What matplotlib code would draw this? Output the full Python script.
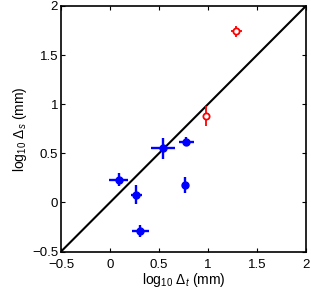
import matplotlib
matplotlib.use("Agg")
import matplotlib.pyplot as plt

plt.rcParams['font.family'] = ['Liberation Sans', 'DejaVu Sans']
plt.rcParams['mathtext.fontset'] = 'custom'
plt.rcParams['mathtext.rm'] = 'Liberation Sans'
plt.rcParams['mathtext.it'] = 'Liberation Sans:italic'

# blue filled points
blue_x = [0.09, 0.27, 0.31, 0.54, 0.78, 0.77]
blue_y = [0.23, 0.08, -0.29, 0.55, 0.62, 0.18]
blue_xerr = [0.095, 0.06, 0.09, 0.12, 0.08, 0.02]
blue_yerr = [0.065, 0.10, 0.06, 0.11, 0.05, 0.08]

# red open points
red_x = [0.98, 1.29]
red_y = [0.88, 1.74]
red_xerr = [0.02, 0.06]
red_yerr = [0.10, 0.06]

line = [-0.5, 2]

fig = plt.figure(figsize=(3.11, 2.95), dpi=100)
ax = fig.add_axes([0.196, 0.147, 0.788, 0.833])

ax.plot(line, line, color='black', lw=1.5)
ax.errorbar(blue_x, blue_y, xerr=blue_xerr, yerr=blue_yerr, fmt='o',
            color='blue', ms=5, elinewidth=1.7, capsize=0)
ax.errorbar(red_x, red_y, xerr=red_xerr, yerr=red_yerr, fmt='o',
            color='red', mfc='white', mec='red', ms=4.5, mew=1.3,
            elinewidth=1.3, capsize=0)

ax.set_xlim(-0.5, 2)
ax.set_ylim(-0.5, 2)
ticks = [-0.5, 0, 0.5, 1, 1.5, 2]
labels = ['\u22120.5', '0', '0.5', '1', '1.5', '2']
ax.set_xticks(ticks)
ax.set_yticks(ticks)
ax.set_xticklabels(labels)
ax.set_yticklabels(labels)
ax.tick_params(direction='in', top=True, right=True, labelsize=9.5, length=3)
ax.tick_params(axis='x', pad=5)
ax.tick_params(axis='y', pad=2)
for s in ax.spines.values():
    s.set_linewidth(1.2)

ax.set_xlabel(r'log$_{10}$ $\Delta_{t}$ (mm)', fontsize=10, labelpad=0)
ax.set_ylabel(r'log$_{10}$ $\Delta_{s}$ (mm)', fontsize=10, labelpad=2)

fig.savefig('out.png', dpi=100)
